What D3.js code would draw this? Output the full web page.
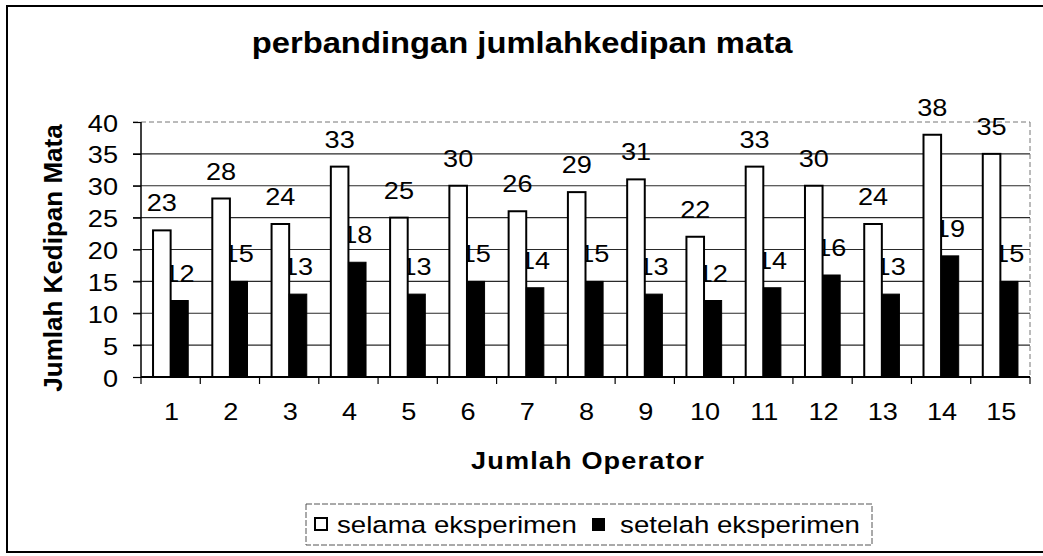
<!DOCTYPE html>
<html>
<head>
<meta charset="utf-8">
<script src="https://cdn.jsdelivr.net/npm/d3@7"></script>
<style>
  html, body { margin: 0; padding: 0; background: #fff; }
  svg { display: block; }
  text { font-family: "Liberation Sans", Arial, sans-serif; fill: #000; }
</style>
</head>
<body>
<svg id="chart" width="1043" height="556"></svg>
<script>
const categories = ["1","2","3","4","5","6","7","8","9","10","11","12","13","14","15"];
const selama = [23,28,24,33,25,30,26,29,31,22,33,30,24,38,35];
const setelah = [12,15,13,18,13,15,14,15,13,12,14,16,13,19,15];
const seriesNames = ["selama eksperimen", "setelah eksperimen"];
const yTicks = [0,5,10,15,20,25,30,35,40];
const chartTitle = "perbandingan jumlahkedipan mata";
const yTitle = "Jumlah Kedipan Mata";
const xTitle = "Jumlah Operator";

const SX = 1.13; // horizontal stretch of the scanned text
const svg = d3.select("#chart");

// outer frame
svg.append("rect").attr("x", 7).attr("y", 6).attr("width", 1040).attr("height", 546)
  .attr("fill", "none").attr("stroke", "#000").attr("stroke-width", 2);

const pLeft = 141, pRight = 1030, pTop = 122, pBottom = 377;
const x = d3.scaleBand().domain(categories).range([pLeft, pRight]).padding(0);
const xs = d3.scaleBand().domain([0,1]).range([0, x.bandwidth()]).paddingInner(0).paddingOuter(0.684);
const y = d3.scaleLinear().domain([0, 40]).range([pBottom, pTop]);

function txt(g, tx, ty, s, size, opts = {}) {
  const t = g.append("text")
    .attr("transform", `translate(${tx},${ty}) scale(${opts.sx || SX},1)`)
    .attr("font-size", size)
    .attr("text-anchor", opts.anchor || "start")
    .attr("font-weight", opts.bold ? "bold" : "normal")
    .text(s);
  if (opts.ls) t.attr("letter-spacing", opts.ls);
  return t;
}

// gridlines
const grid = svg.append("g");
grid.selectAll("line.g").data(yTicks.filter(d => d > 0 && d < 40)).join("line").attr("class", "g")
  .attr("x1", pLeft - 8).attr("x2", pRight)
  .attr("y1", d => y(d)).attr("y2", d => y(d))
  .attr("stroke", "#2a2a2a").attr("stroke-width", 1.2);
grid.append("line").attr("x1", pLeft - 8).attr("x2", pRight).attr("y1", y(40)).attr("y2", y(40))
  .attr("stroke", "#777").attr("stroke-width", 1).attr("stroke-dasharray", "5,3");
grid.append("line").attr("x1", pRight).attr("x2", pRight).attr("y1", y(40)).attr("y2", pBottom)
  .attr("stroke", "#777").attr("stroke-width", 1).attr("stroke-dasharray", "5,3");

// labels of second series drawn below the bars (partly hidden in the original)
const lab = svg.append("g");
categories.forEach((c, i) => {
  const cx = x(c) + xs(1) + xs.bandwidth() / 2;
  txt(lab, cx, y(setelah[i]) - 19, String(setelah[i]), 24, { anchor: "middle" });
});

// bars
const bars = svg.append("g");
bars.selectAll("rect.s1").data(selama).join("rect").attr("class", "s1")
  .attr("x", (d, i) => x(categories[i]) + xs(0))
  .attr("width", xs.bandwidth())
  .attr("y", d => y(d)).attr("height", d => pBottom - y(d))
  .attr("fill", "#fff").attr("stroke", "#000").attr("stroke-width", 2);
bars.selectAll("rect.s2").data(setelah).join("rect").attr("class", "s2")
  .attr("x", (d, i) => x(categories[i]) + xs(1))
  .attr("width", xs.bandwidth())
  .attr("y", d => y(d)).attr("height", d => pBottom - y(d))
  .attr("fill", "#000").attr("stroke", "#000").attr("stroke-width", 1);

// labels of first series
const lab1 = svg.append("g");
categories.forEach((c, i) => {
  const cx = x(c) + xs(0) + xs.bandwidth() / 2;
  txt(lab1, cx, y(selama[i]) - 19, String(selama[i]), 24, { anchor: "middle" });
});

// axes
const yAxis = svg.append("g").attr("transform", `translate(${pLeft},0)`)
  .call(d3.axisLeft(y).tickValues(yTicks).tickSize(8).tickFormat(""));
yAxis.select(".domain").attr("stroke", "#000").attr("stroke-width", 1.5).attr("d", `M0,${pTop}V${pBottom}`);
yAxis.selectAll(".tick line").attr("stroke", "#000").attr("stroke-width", 1.2);
const yl = svg.append("g");
yTicks.forEach(t => txt(yl, 118, y(t) + 9.5, String(t), 24, { anchor: "end" }));

const boundaries = categories.map(c => x(c)).concat([pRight]);
const xAxis = svg.append("g");
xAxis.append("line").attr("x1", pLeft).attr("x2", pRight).attr("y1", pBottom).attr("y2", pBottom)
  .attr("stroke", "#000").attr("stroke-width", 2);
xAxis.selectAll("line.tk").data(boundaries).join("line").attr("class", "tk")
  .attr("x1", d => d).attr("x2", d => d).attr("y1", pBottom).attr("y2", pBottom + 7)
  .attr("stroke", "#000").attr("stroke-width", 1.2);
categories.forEach(c => txt(xAxis, x(c) + x.bandwidth() / 2 + 1, 420, c, 24, { anchor: "middle" }));

// titles
txt(svg, 522, 53, chartTitle, 29, { anchor: "middle", bold: true });
svg.append("text")
  .attr("transform", `translate(62,258) rotate(-90)`)
  .attr("font-size", 26).attr("font-weight", "bold").attr("text-anchor", "middle")
  .text(yTitle);
txt(svg, 588, 469, xTitle, 24, { anchor: "middle", bold: true, ls: 1 });

// legend
const lg = svg.append("g");
lg.append("rect").attr("x", 306).attr("y", 504).attr("width", 566).attr("height", 41)
  .attr("fill", "#fff").attr("stroke", "#555").attr("stroke-width", 1).attr("stroke-dasharray", "6,2");
lg.append("rect").attr("x", 315).attr("y", 518).attr("width", 12).attr("height", 12)
  .attr("fill", "#fff").attr("stroke", "#000").attr("stroke-width", 2);
txt(lg, 337, 533, seriesNames[0], 24.5);
lg.append("rect").attr("x", 592).attr("y", 518).attr("width", 13).attr("height", 13)
  .attr("fill", "#000");
txt(lg, 860, 533, seriesNames[1], 24.5, { anchor: "end" });
</script>
</body>
</html>
